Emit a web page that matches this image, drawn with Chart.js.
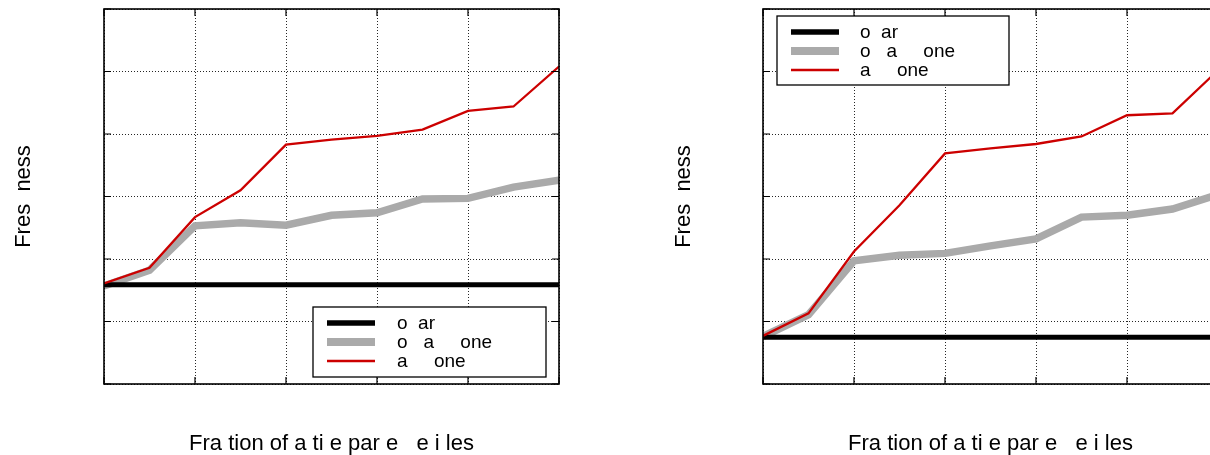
<!DOCTYPE html>
<html>
<head>
<meta charset="utf-8">
<script src="https://cdn.jsdelivr.net/npm/chart.js@4.4.0/dist/chart.umd.min.js"></script>
<style>
html,body{margin:0;padding:0;background:#fff;overflow:hidden;width:1210px;height:455px;}
#l{position:absolute;left:0;top:0;}
#r{position:absolute;left:605px;top:0;}
</style>
</head>
<body>
<div id="l"><canvas id="cl" width="605" height="455"></canvas></div>
<div id="r"><canvas id="cr" width="660" height="455"></canvas></div>
<script>
// ---- data ----
const xValues = [0, 0.1, 0.2, 0.3, 0.4, 0.5, 0.6, 0.7, 0.8, 0.9, 1.0];
const xTicks = [0, 0.2, 0.4, 0.6, 0.8, 1.0];
const yTicks = [0, 1, 2, 3, 4, 5, 6];

const leftBaseline = [1.59, 1.59, 1.59, 1.59, 1.59, 1.59, 1.59, 1.59, 1.59, 1.59, 1.59];
const leftGray     = [1.57, 1.82, 2.53, 2.58, 2.54, 2.70, 2.74, 2.96, 2.97, 3.15, 3.26];
const leftRed      = [1.61, 1.86, 2.67, 3.10, 3.83, 3.91, 3.97, 4.07, 4.37, 4.44, 5.08];

const rightBaseline = [0.75, 0.75, 0.75, 0.75, 0.75, 0.75, 0.75, 0.75, 0.75, 0.75, 0.75];
const rightGray     = [0.76, 1.11, 1.97, 2.06, 2.09, 2.21, 2.32, 2.67, 2.70, 2.80, 3.03];
const rightRed      = [0.77, 1.13, 2.12, 2.86, 3.69, 3.77, 3.84, 3.96, 4.30, 4.33, 5.02];

const seriesNames = ["o  ar", "o   a     one", "a     one"];
const xTitle = "Fra tion of a ti e par e   e i les";
const yTitle = "Fres  ness";

// ---- styles ----
const FONT = "'Liberation Sans', Arial, Helvetica, sans-serif";
const styles = [
  {color: "#000000", width: 5, legendWidth: 5.5, order: 1},
  {color: "#aaaaaa", width: 7.5, legendWidth: 8, order: 2},
  {color: "#cc0000", width: 2.3, legendWidth: 2.5, order: 0}
];

function pts(arr) { return arr.map((v, i) => ({x: xValues[i], y: v})); }

const framePlugin = {
  id: 'frame',
  afterDraw(chart, args, opts) {
    const ctx = chart.ctx;
    const a = chart.chartArea;
    const xs = chart.scales.x, ys = chart.scales.y;
    ctx.save();
    // box
    ctx.strokeStyle = '#000';
    ctx.lineWidth = 1.6;
    ctx.strokeRect(a.left, a.top, a.right - a.left, a.bottom - a.top);
    // inward ticks
    const tl = 7;
    ctx.lineWidth = 1.2;
    ctx.beginPath();
    xTicks.forEach(t => {
      const px = xs.getPixelForValue(t);
      ctx.moveTo(px, a.bottom); ctx.lineTo(px, a.bottom - tl);
      ctx.moveTo(px, a.top); ctx.lineTo(px, a.top + tl);
    });
    yTicks.forEach(t => {
      const py = ys.getPixelForValue(t);
      ctx.moveTo(a.left, py); ctx.lineTo(a.left + tl, py);
      ctx.moveTo(a.right, py); ctx.lineTo(a.right - tl, py);
    });
    ctx.stroke();

    // titles
    ctx.fillStyle = '#000';
    ctx.font = "22px " + FONT;
    ctx.textAlign = 'center';
    ctx.textBaseline = 'alphabetic';
    ctx.fillText(xTitle, (a.left + a.right) / 2, 450);
    ctx.save();
    ctx.translate(opts.yTitleX, (a.top + a.bottom) / 2);
    ctx.rotate(-Math.PI / 2);
    ctx.fillText(yTitle, 0, 0);
    ctx.restore();

    // legend
    const L = opts.legend;
    const bx = L.anchor === 'br' ? a.right - L.rightGap - L.w : a.left + L.leftGap;
    const by = L.anchor === 'br' ? a.bottom - L.bottomGap - L.h : a.top + L.topGap;
    ctx.fillStyle = '#fff';
    ctx.fillRect(bx, by, L.w, L.h);
    ctx.strokeStyle = '#000';
    ctx.lineWidth = 1.3;
    ctx.strokeRect(bx, by, L.w, L.h);
    ctx.font = "19px " + FONT;
    ctx.textAlign = 'left';
    ctx.textBaseline = 'middle';
    chart.data.datasets.forEach((ds, i) => {
      const rowY = by + L.firstRow + i * L.rowGap;
      ctx.strokeStyle = styles[i].color;
      ctx.lineWidth = styles[i].legendWidth;
      ctx.beginPath();
      ctx.moveTo(bx + L.sampleX, rowY);
      ctx.lineTo(bx + L.sampleX + L.sampleLen, rowY);
      ctx.stroke();
      ctx.fillStyle = '#000';
      ctx.fillText(ds.label, bx + L.textX, rowY + 1);
    });
    ctx.restore();
  }
};

function makeChart(id, series, pad, yTitleX, legend) {
  const datasets = series.map((s, i) => ({
    label: seriesNames[i],
    data: pts(s),
    borderColor: styles[i].color,
    backgroundColor: styles[i].color,
    borderWidth: styles[i].width,
    pointRadius: 0,
    tension: 0,
    fill: false,
    order: styles[i].order,
    borderCapStyle: 'butt',
    borderJoinStyle: 'miter'
  }));
  const gridCommon = {
    color: 'rgba(0,0,0,0.85)',
    lineWidth: 1,
    drawTicks: false
  };
  return new Chart(document.getElementById(id), {
    type: 'line',
    data: {datasets},
    options: {
      responsive: false,
      animation: false,
      devicePixelRatio: 1,
      layout: {padding: pad},
      plugins: {
        legend: {display: false},
        tooltip: {enabled: false},
        frame: {yTitleX, legend}
      },
      scales: {
        x: {
          type: 'linear', min: 0, max: 1,
          afterBuildTicks: sc => { sc.ticks = xTicks.map(v => ({value: v})); },
          ticks: {display: false},
          grid: gridCommon,
          border: {display: false, dash: [1, 2]},
          afterFit: sc => { sc.height = 0; }
        },
        y: {
          type: 'linear', min: 0, max: 6,
          afterBuildTicks: sc => { sc.ticks = yTicks.map(v => ({value: v})); },
          ticks: {display: false},
          grid: gridCommon,
          border: {display: false, dash: [1, 2]},
          afterFit: sc => { sc.width = 0; }
        }
      }
    },
    plugins: [framePlugin]
  });
}

makeChart('cl', [leftBaseline, leftGray, leftRed],
  {left: 104, right: 46, top: 9, bottom: 71}, 30,
  {anchor: 'br', w: 233, h: 70, rightGap: 13, bottomGap: 7,
   sampleX: 14, sampleLen: 48, textX: 84, firstRow: 16, rowGap: 19});

makeChart('cr', [rightBaseline, rightGray, rightRed],
  {left: 158, right: 47, top: 9, bottom: 71}, 85,
  {anchor: 'tl', w: 232, h: 69, leftGap: 14, topGap: 7,
   sampleX: 14, sampleLen: 48, textX: 83, firstRow: 16, rowGap: 19});
</script>
</body>
</html>
